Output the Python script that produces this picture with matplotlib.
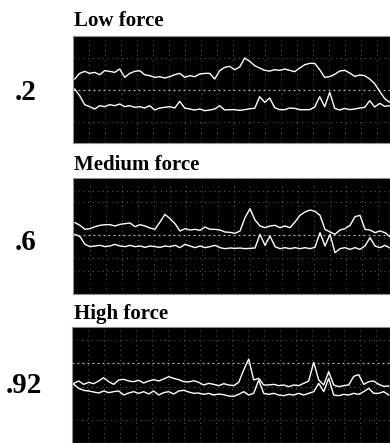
import numpy as np
import matplotlib.pyplot as plt

# amplitude readings, sampled every 5 px across each trace
low_upper = [192, 209, 215, 209, 212, 205, 217, 215, 212, 222, 197, 209, 215, 217, 205, 202,
             197, 199, 195, 199, 205, 209, 197, 202, 199, 207, 209, 209, 192, 217, 227,
             230, 220, 228, 255, 245, 232, 225, 218, 216, 220, 218, 222, 218, 214, 225, 235,
             239, 239, 220, 197, 199, 206, 216, 218, 210, 200, 204, 202, 192, 178, 155, 133, 122]
low_lower = [162, 142, 115, 109, 102, 112, 109, 115, 112, 117, 109, 112, 107, 109, 105, 112,
             99, 105, 107, 109, 105, 125, 105, 102, 99, 102, 97, 99, 102, 112, 99,
             100, 100, 98, 100, 103, 104, 139, 122, 135, 106, 100, 100, 105, 104, 100, 100,
             100, 108, 139, 109, 152, 104, 99, 104, 100, 102, 105, 107, 127, 108, 119, 110, 112]

mid_upper = [214, 206, 194, 196, 202, 206, 208, 208, 204, 209, 211, 213, 202, 208, 204, 198,
             194, 216, 239, 226, 211, 189, 196, 192, 194, 191, 201, 194, 194, 192, 186,
             185, 182, 189, 229, 256, 222, 204, 199, 204, 206, 199, 204, 199, 216, 236, 246,
             252, 248, 236, 194, 186, 179, 192, 196, 206, 232, 236, 194, 192, 184, 189, 184, 172]
mid_lower = [179, 172, 149, 142, 144, 146, 142, 144, 149, 144, 142, 146, 142, 144, 140, 144,
             142, 140, 144, 142, 146, 139, 149, 144, 139, 144, 139, 142, 146, 139, 136,
             138, 137, 138, 136, 137, 138, 179, 146, 174, 142, 136, 139, 136, 139, 136, 139,
             136, 140, 184, 144, 179, 124, 136, 139, 134, 139, 134, 144, 169, 144, 139, 146, 138]

high_upper = [179, 186, 176, 182, 178, 186, 196, 184, 176, 189, 191, 186, 184, 188, 180, 186,
              190, 186, 192, 199, 194, 190, 184, 183, 187, 182, 174, 179, 176, 172, 178,
              174, 172, 182, 219, 252, 189, 194, 174, 174, 176, 172, 174, 169, 174, 172, 179,
              186, 242, 189, 174, 214, 174, 169, 172, 174, 200, 205, 176, 184, 186, 176, 170, 171]
high_lower = [176, 164, 158, 156, 153, 150, 156, 151, 154, 156, 144, 150, 154, 149, 154, 147,
              156, 144, 151, 154, 147, 156, 158, 153, 149, 150, 146, 149, 144, 147, 145,
              141, 140, 146, 154, 144, 149, 189, 149, 146, 149, 144, 142, 146, 144, 149, 144,
              149, 154, 179, 154, 194, 144, 142, 146, 144, 149, 146, 154, 164, 149, 149, 154, 144]

titles = ['Low force', 'Medium force', 'High force']
ratios = ['.2', '.6', '.92']

W, H = 390, 443
fig = plt.figure(figsize=(W / 100, H / 100), dpi=100)
serif = ['Liberation Serif', 'DejaVu Serif']


def px_axes(left, top, right, bottom):
    return fig.add_axes([left / W, 1 - bottom / H, (right - left) / W, (bottom - top) / H])


# (box in px, y max, horizontal grid levels, bright level, title baseline, ratio baseline, ratio x)
panels = [
    ((72.7, 35.7, 390, 143), 322, [64, 254], 159, 26.5, 100, 15),
    ((73, 178, 390, 294), 348, [69, 109, 276, 309], 176, 170.5, 250, 15),
    ((71.7, 327, 390, 443), 348, [69, 169, 309], 239, 319, 393, 6),
]
traces = [(low_upper, low_lower), (mid_upper, mid_lower), (high_upper, high_lower)]

for (box, ymax, hgrid, hmain, tb, rb, rx), (up, lo), title, ratio in zip(panels, traces, titles, ratios):
    ax = px_axes(*box)
    ax.set_facecolor('black')
    width = box[2] - box[0]
    for xv in np.arange(16.5, width, 16):
        ax.axvline(xv, color='#b0b0b0', lw=0.7, ls=(0, (1, 4)), alpha=0.6)
    for yv in hgrid:
        ax.axhline(yv, color='#b0b0b0', lw=0.7, ls=(0, (1, 4)), alpha=0.6)
    ax.axhline(hmain, color='#d8d8d8', lw=0.9, ls=(0, (1.5, 2.5)), alpha=0.85)
    for tr in (up, lo):
        x = 2 + 5 * np.arange(len(tr))
        ax.plot(x, tr, color='white', lw=1.0)
    ax.set_xlim(0, width)
    ax.set_ylim(0, ymax)
    ax.set_xticks([])
    ax.set_yticks([])
    for s in ax.spines.values():
        s.set_color('#909090')
        s.set_linewidth(0.8)
    fig.text(74 / W, 1 - tb / H, title, family=serif, fontweight='bold', fontsize=15,
             va='baseline', ha='left')
    fig.text(rx / W, 1 - rb / H, ratio, family=serif, fontweight='bold', fontsize=21,
             va='baseline', ha='left')

fig.savefig('out.png', dpi=100, facecolor='white')
